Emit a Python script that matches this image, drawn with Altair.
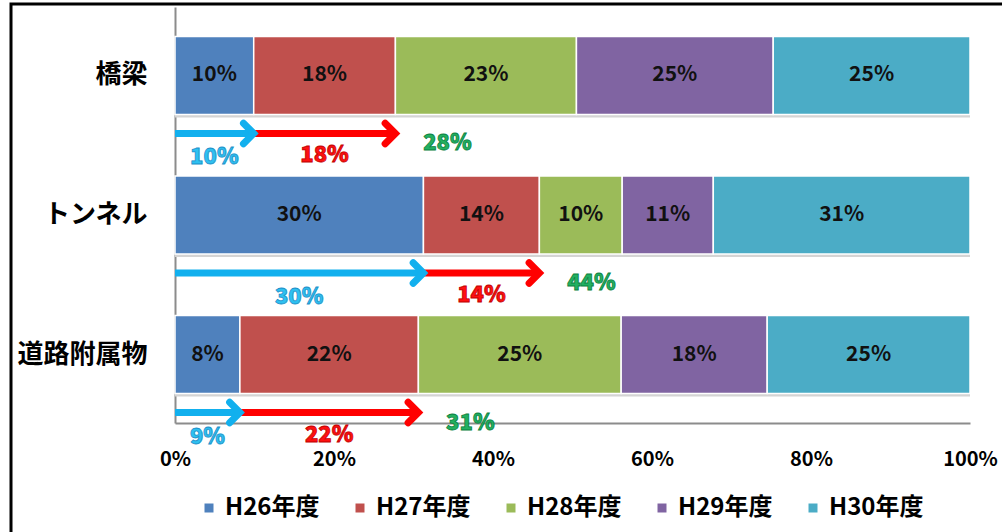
import altair as alt
import pandas as pd

FONT = "Noto Sans CJK JP"

categories = ["橋梁", "トンネル", "道路附属物"]
years = ["H26年度", "H27年度", "H28年度", "H29年度", "H30年度"]
h26 = [10, 30, 8]
h27 = [18, 14, 22]
h28 = [23, 10, 25]
h29 = [25, 11, 18]
h30 = [25, 31, 25]
colors = ["#4F81BD", "#C0504D", "#9BBB59", "#8064A2", "#4BACC6"]

# arrow annotations (values shown under each bar)
cyan_vals = [10, 30, 9]
red_vals = [18, 14, 22]
green_vals = [28, 44, 31]

series = [h26, h27, h28, h29, h30]

rows = []
arrows = []
for ci, cat in enumerate(categories):
    vals = [s[ci] for s in series]
    total = sum(vals)
    cum = 0
    bounds = []
    for yi, y in enumerate(years):
        start = cum / total
        cum += vals[yi]
        end = cum / total
        bounds.append(end)
        rows.append(dict(cat=cat, year=y, start=start, end=end,
                         mid=(start + end) / 2, label=f"{vals[yi]}%"))
    c1, c2 = bounds[0], bounds[1]
    arrows.append(dict(cat=cat, x0=0.0, c1=c1, c2=c2,
                       m1=c1 / 2, m2=(c1 + c2) / 2,
                       cyan=f"{cyan_vals[ci]}%", red=f"{red_vals[ci]}%",
                       green=f"{green_vals[ci]}%"))

df = pd.DataFrame(rows)
adf = pd.DataFrame(arrows)
cdf = pd.DataFrame({"cat": categories})

yscale = alt.Scale(domain=categories, paddingInner=0.441, paddingOuter=0.211)
xscale = alt.Scale(domain=[0, 1], nice=False)

Y = alt.Y("cat:N", scale=yscale, title=None,
          axis=alt.Axis(labelFont=FONT, labelFontSize=26, labelFontWeight="bold",
                        labelColor="#000000", labelPadding=28, ticks=False,
                        domainColor="#8c8c8c", domainWidth=2, grid=False))

XAX = alt.Axis(format=".0%", values=[0, 0.2, 0.4, 0.6, 0.8, 1.0],
               labelFont=FONT, labelFontSize=20, labelFontWeight="bold",
               labelColor="#000000", labelPadding=26, ticks=False,
               grid=False, domainColor="#8c8c8c", domainWidth=2,
               labelFlush=False, labelOverlap=False)


def X(field):
    return alt.X(field, scale=xscale, title=None, axis=XAX)


shadow = alt.Chart(cdf).mark_bar(color="#d4d4d4", yOffset=3).encode(
    y=Y, x=alt.datum(0, scale=xscale, axis=XAX, title=None), x2=alt.datum(1)
)

bars = alt.Chart(df).mark_bar(stroke="white", strokeWidth=1.5).encode(
    y=Y,
    x=X("start:Q"),
    x2="end:Q",
    color=alt.Color("year:N", scale=alt.Scale(domain=years, range=colors),
                    legend=alt.Legend(orient="none", legendX=22, legendY=489,
                                      direction="horizontal", columns=5, title=None,
                                      symbolType="square", symbolSize=81,
                                      symbolStrokeWidth=0,
                                      labelFont=FONT, labelFontSize=24,
                                      labelFontWeight="bold", labelColor="#000000",
                                      labelOffset=4, columnPadding=28, padding=0)),
)

bar_text = alt.Chart(df).mark_text(font=FONT, fontSize=21, fontWeight="bold",
                                   color="#111111").encode(
    y=Y, x=X("mid:Q"), text="label:N"
)

AOFF = 58
CYAN = "#12B0EE"
RED = "#FF0000"
HEAD = "M-1,-1L0,0L-1,1"

cyan_shaft = alt.Chart(adf).mark_rule(color=CYAN, strokeWidth=7, yOffset=AOFF).encode(
    y=Y, x=X("x0:Q"), x2="c1:Q")
red_shaft = alt.Chart(adf).mark_rule(color=RED, strokeWidth=7, yOffset=AOFF).encode(
    y=Y, x=X("c1:Q"), x2="c2:Q")
red_head = alt.Chart(adf).mark_point(shape=HEAD, size=420, filled=False, color=RED,
                                     strokeWidth=7, opacity=1, yOffset=AOFF,
                                     strokeCap="round").encode(
    y=Y, x=X("c2:Q"))
cyan_head = alt.Chart(adf).mark_point(shape=HEAD, size=420, filled=False, color=CYAN,
                                      strokeWidth=7, opacity=1, yOffset=AOFF,
                                      strokeCap="round").encode(
    y=Y, x=X("c1:Q"))

lbl_kw = dict(font=FONT, fontSize=22, fontWeight=900, strokeWidth=0.8)
cyan_lbl = alt.Chart(adf).mark_text(fill="#2EC0F0", stroke="#1C8FC8", yOffset=82,
                                    **lbl_kw).encode(
    y=Y, x=X("m1:Q"), text="cyan:N")
red_lbl = alt.Chart(adf).mark_text(fill="#FF1010", stroke="#C00000", yOffset=80,
                                   **lbl_kw).encode(
    y=Y, x=X("m2:Q"), text="red:N")
green_lbl = alt.Chart(adf).mark_text(fill="#22B060", stroke="#0A8040", yOffset=68,
                                     dx=52, **lbl_kw).encode(
    y=Y, x=X("c2:Q"), text="green:N")

frame = alt.Chart(pd.DataFrame({"a": [0]})).mark_rect(
    fill="transparent", stroke="#000000", strokeWidth=3
).encode(x=alt.value(-164), x2=alt.value(900), y=alt.value(-3), y2=alt.value(700))

chart = alt.layer(
    shadow, bars, bar_text, cyan_shaft, red_shaft, red_head, cyan_head,
    cyan_lbl, red_lbl, green_lbl, frame
).properties(
    width=795, height=416,
    padding={"left": 175, "top": 7, "right": 32, "bottom": 109},
    autosize=alt.AutoSizeParams(type="none"),
).configure(font=FONT, background="white").configure_view(stroke=None)

chart.save("out.html", embed_options={"renderer": "svg", "actions": False})
